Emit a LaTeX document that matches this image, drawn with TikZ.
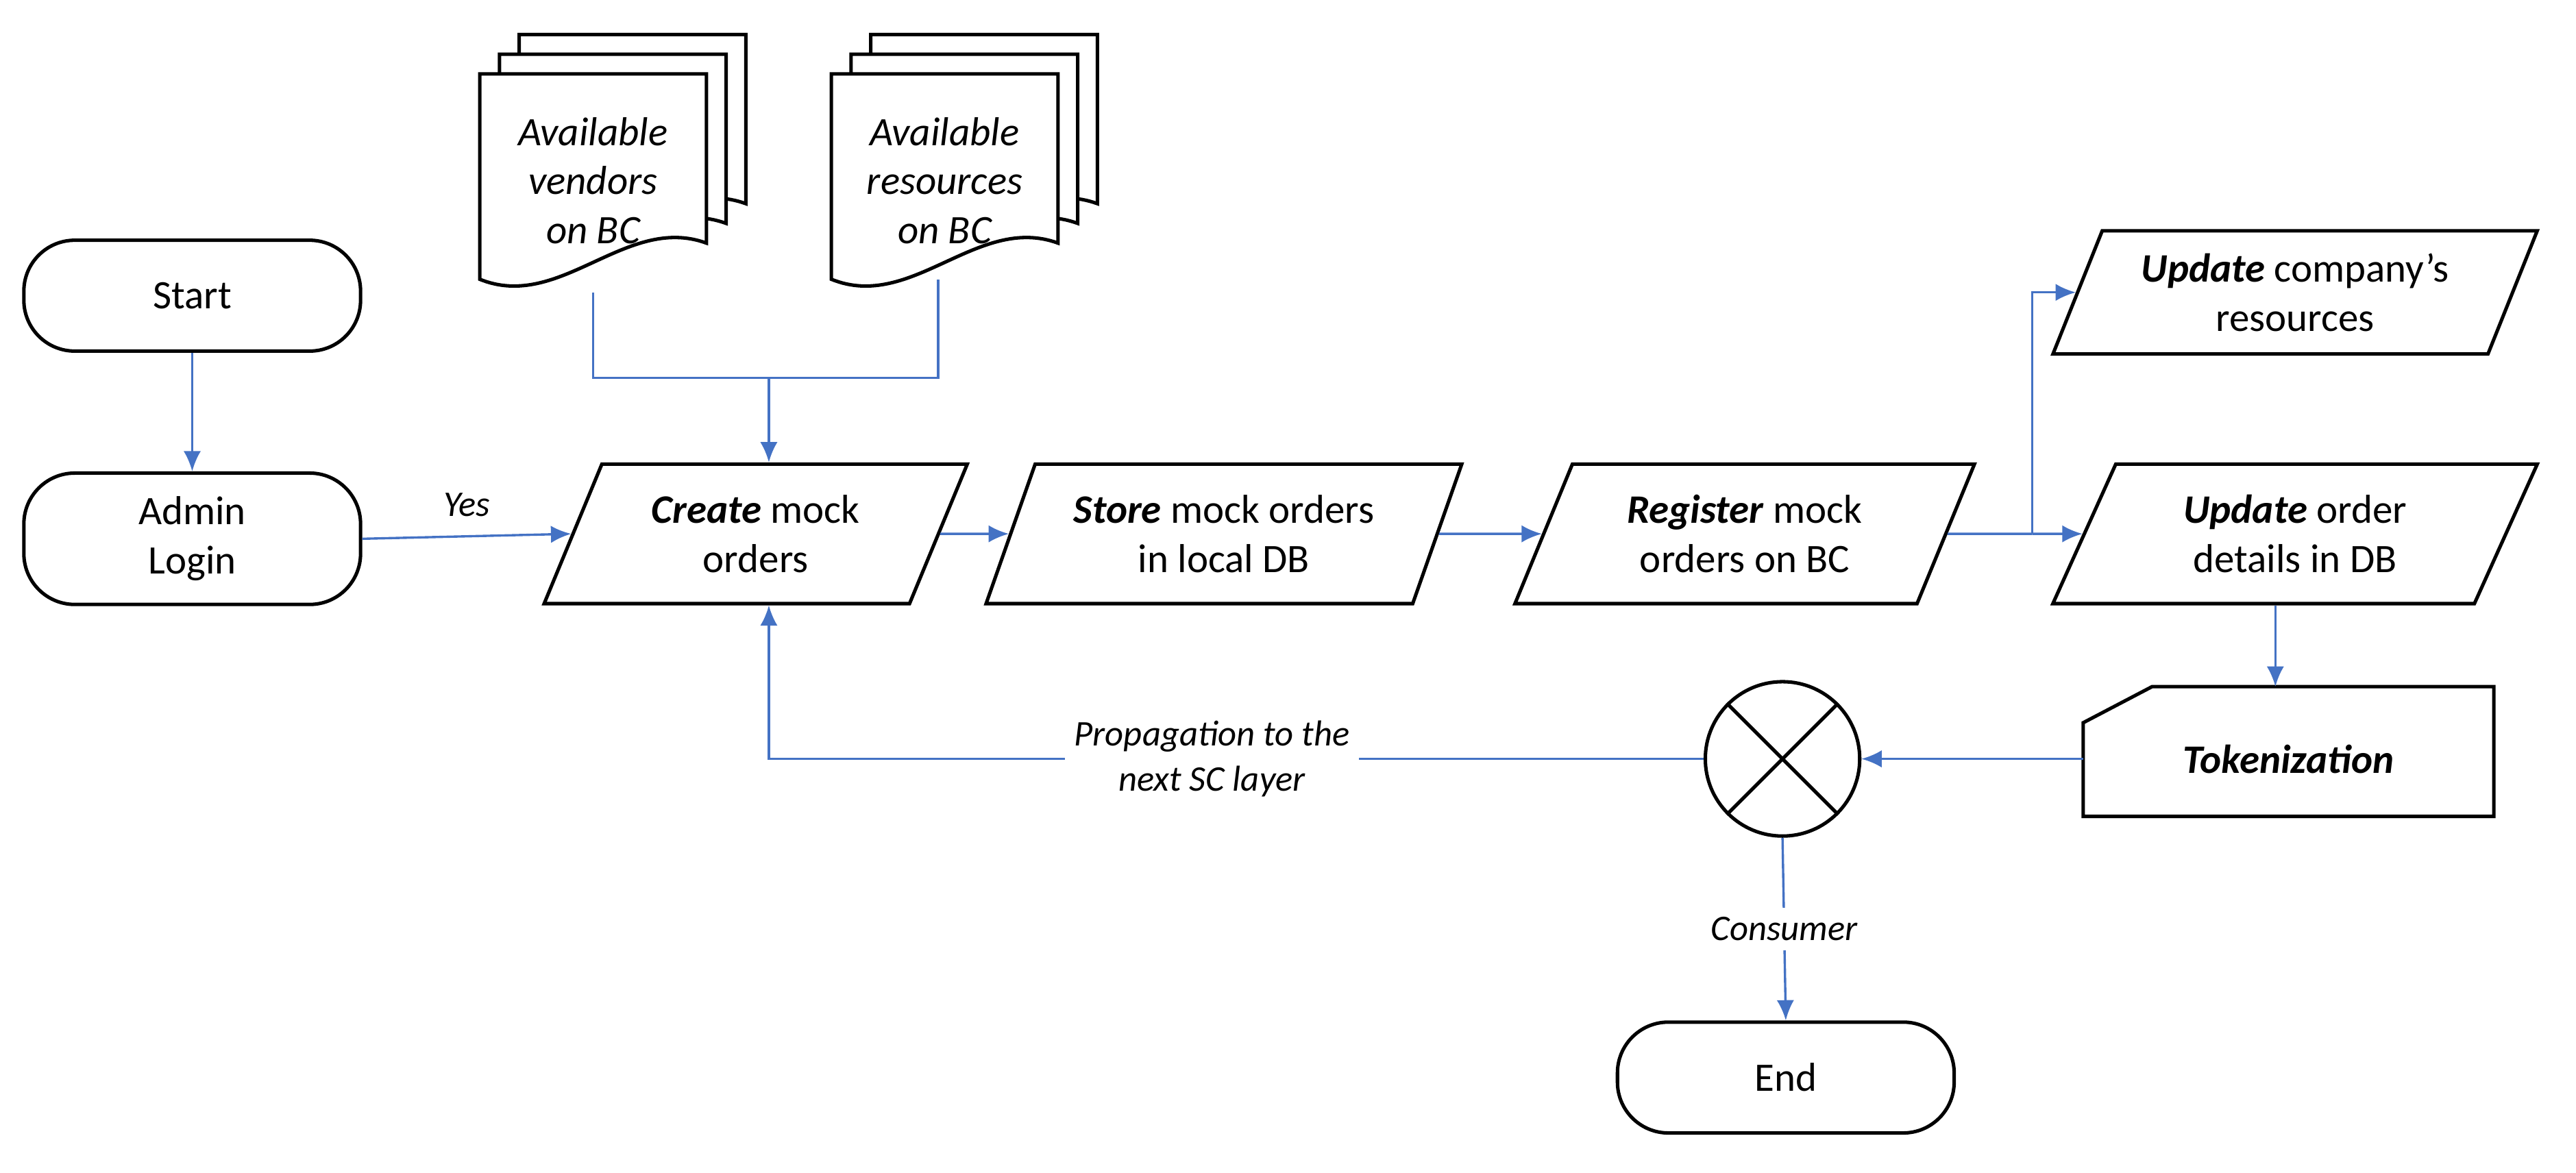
\documentclass[tikz,border=0pt]{standalone}
\usepackage{fontspec}
\setmainfont{Carlito}
\usetikzlibrary{shapes.geometric, arrows.meta}
\begin{document}
\begin{tikzpicture}[x=0.02cm, y=-0.02cm, font=\fontsize{14}{17}\selectfont]
\tikzset{term/.style={draw, line width=1.2pt, rounded corners=0.62cm, minimum width=4.1cm, minimum height=1.35cm, align=center},
  io/.style={draw, line width=1.2pt, trapezium, trapezium left angle=68, trapezium right angle=112, trapezium stretches=true, minimum width=5.2cm, minimum height=1.7cm, align=center, inner xsep=0pt},
  flow/.style={color={rgb,255:red,68;green,114;blue,196}, line width=0.8pt, -{Latex[length=7pt,width=6pt]}},
  line/.style={color={rgb,255:red,68;green,114;blue,196}, line width=0.8pt},
  page/.style={draw, line width=1.2pt, fill=white},
  lbl/.style={font=\fontsize{12.5}{15.5}\selectfont\itshape, text=black, fill=white, align=center}}
\useasboundingbox (0,0) rectangle (1568,714);
% terminals
\node[term] (start) at (117,180) {Start};
\node[term, minimum height=1.6cm] (login) at (117,328) {Admin\\Login};
\node[term] (end) at (1087,656) {End};
% process steps
\node[io] (create) at (460,325) {\textbf{\textit{Create}} mock\\orders};
\node[io, minimum width=5.8cm] (store) at (745,325) {\textbf{\textit{Store}} mock orders\\in local DB};
\node[io, minimum width=5.6cm] (register) at (1062,325) {\textbf{\textit{Register}} mock\\orders on BC};
\node[io, minimum width=5.9cm, minimum height=1.5cm] (updres) at (1397,178) {\textbf{\textit{Update}} company's\\resources};
\node[io, minimum width=5.9cm] (updord) at (1397,325) {\textbf{\textit{Update}} order\\details in DB};
% tokenization
\draw[line width=1.2pt] (1268,440) -- (1310,418) -- (1518,418) -- (1518,497) -- (1268,497) -- cycle;
\node[font=\fontsize{14}{17}\selectfont\bfseries\itshape] (token) at (1393,462) {Tokenization};
\coordinate (tokl) at (1268,462);
\coordinate (tokt) at (1385,418);
% junction
\node[draw, circle, line width=1.2pt, minimum size=1.88cm] (junc) at (1085,462) {};
\draw[line width=1.2pt] (junc.north west) -- (junc.south east) (junc.north east) -- (junc.south west);
% documents
\foreach \cx/\nm/\txt in {361/ven/vendors, 575/res/resources}{
  \begin{scope}[shift={(\cx,110)}]
    \foreach \d in {24,12,0}
      \draw[page] (-69+\d,-65-\d) -- (69+\d,-65-\d) -- (69+\d,38-\d) .. controls (20+\d,20-\d) and (-20+\d,80-\d) .. (-69+\d,60-\d) -- cycle;
  \end{scope}
  \node[align=center, font=\fontsize{14}{17}\selectfont\itshape] (\nm) at (\cx,110) {Available\\\txt\\on BC};
}
\coordinate (venb) at (361,178);
\coordinate (resb) at (571,170);
% connectors
\draw[flow] (start) -- (login);
\draw[flow] (login.east) -- node[lbl, above=3pt, fill=none] {Yes} (create.west);
\draw[line] (venb) |- (468,230) -| (resb);
\draw[flow] (468,230) -- (create.north -| 468,0);
\draw[flow] (create.east) -- (store.west);
\draw[flow] (store.east) -- (register.west);
\draw[line] (register.east) -- (1237,325);
\draw[flow] (1237,325) |- (updres.west);
\draw[flow] (1237,325) -- (updord.west);
\draw[flow] (updord.south -| tokt) -- (tokt);
\draw[flow] (tokl) -- (junc.east);
\draw[flow] (junc.west) -| node[lbl, pos=0.263] {Propagation to the\\next SC layer} (create.south -| 468,0);
\draw[flow] (junc.south) -- node[lbl] {Consumer} (end.north);
\end{tikzpicture}
\end{document}
